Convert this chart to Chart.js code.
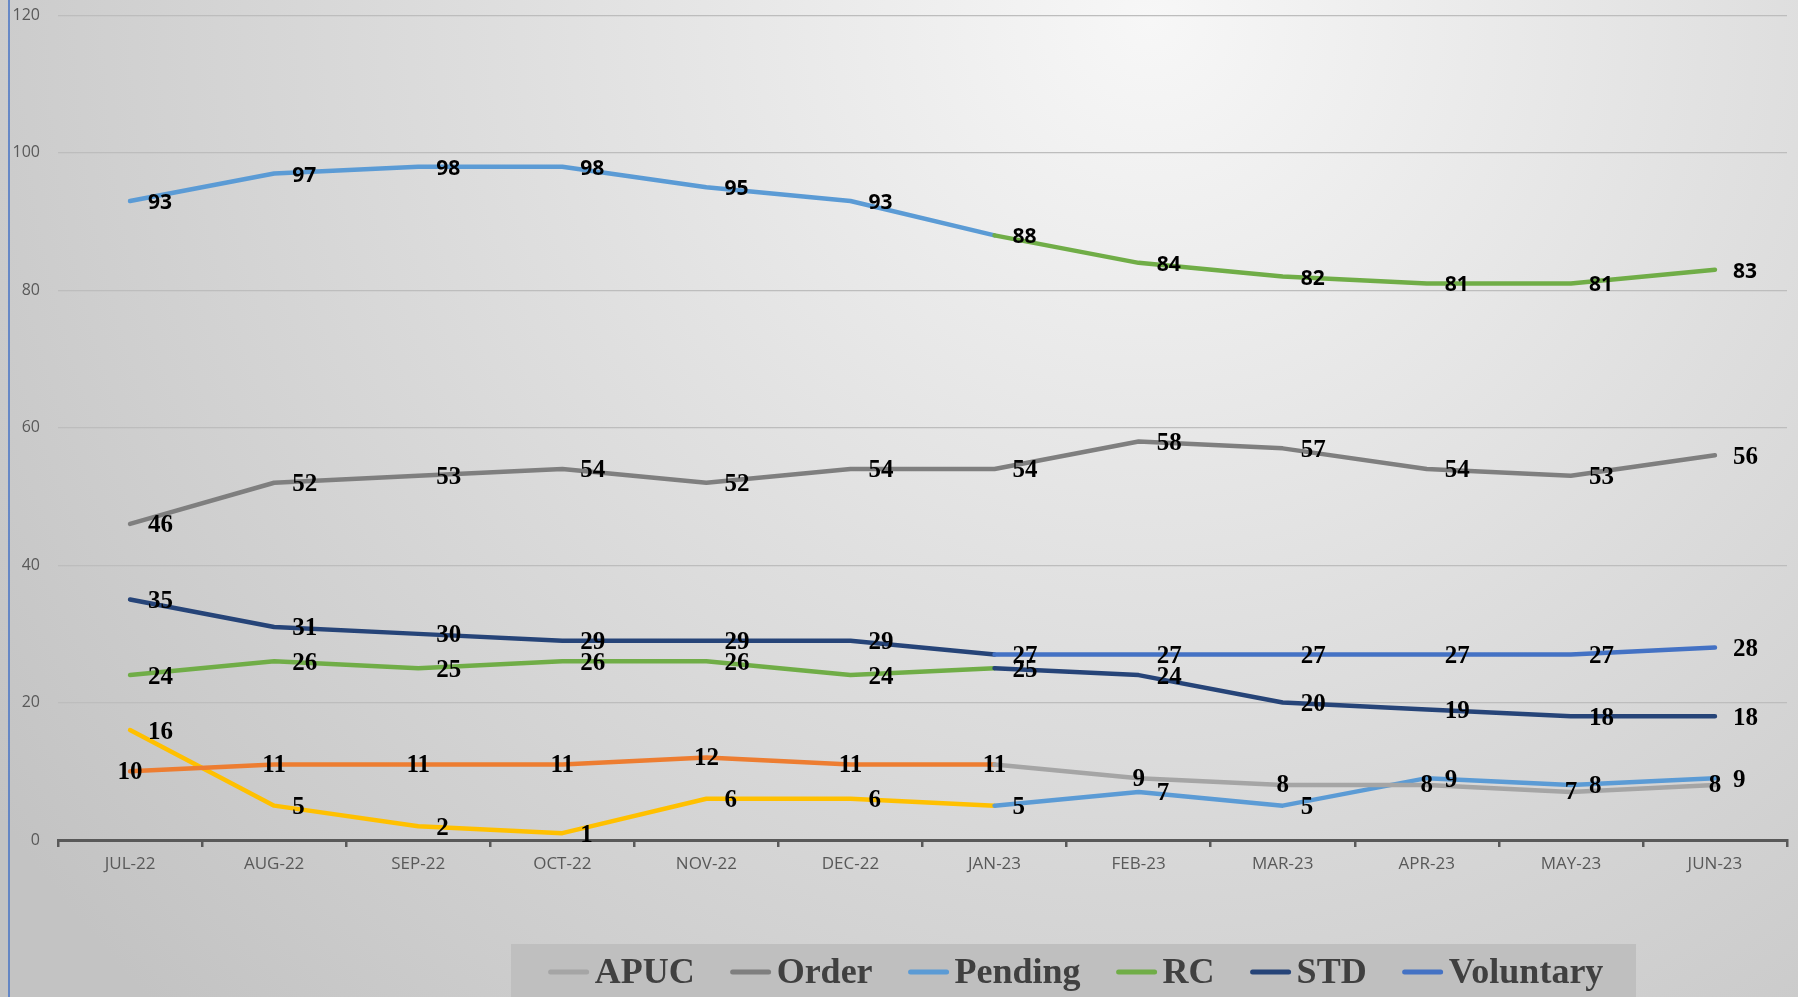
<!DOCTYPE html>
<html>
<head>
<meta charset="utf-8">
<script src="https://cdn.jsdelivr.net/npm/chart.js@4"></script>
<style>
  html, body { margin: 0; padding: 0; background: #d9d9d9; }
  #wrap { width: 1798px; height: 997px; }
</style>
</head>
<body>
<div id="wrap"><canvas id="trendChart" width="1798" height="997"></canvas></div>
<script>
// values
const months = ['JUL-22', 'AUG-22', 'SEP-22', 'OCT-22', 'NOV-22', 'DEC-22',
  'JAN-23', 'FEB-23', 'MAR-23', 'APR-23', 'MAY-23', 'JUN-23'];
const apuc = [10, 11, 11, 11, 12, 11, 11, 9, 8, 8, 7, 8];
const order = [46, 52, 53, 54, 52, 54, 54, 58, 57, 54, 53, 56];
const pending = [16, 5, 2, 1, 6, 6, 5, 7, 5, 9, 8, 9];
const rc = [93, 97, 98, 98, 95, 93, 88, 84, 82, 81, 81, 83];
const std = [24, 26, 25, 26, 26, 24, 25, 24, 20, 19, 18, 18];
const voluntary = [35, 31, 30, 29, 29, 29, 27, 27, 27, 27, 27, 28];
const yTicks = [0, 20, 40, 60, 80, 100, 120];

// line colour changes at JAN-23 (index 6)
const switchIndex = 6;
const serifLabel = 'bold 25px "Liberation Serif", "Times New Roman", serif';
const sansLabel = 'bold 21px "Open Sans", sans-serif';

function makeSeries(name, data, color, earlyColor, labelPos, labelFont) {
  return {
    label: name,
    data: data,
    borderColor: color,
    backgroundColor: color,
    borderWidth: 4.5,
    borderCapStyle: 'round',
    borderJoinStyle: 'round',
    pointRadius: 0,
    pointHoverRadius: 0,
    tension: 0,
    segment: {
      borderColor: (ctx) => (ctx.p0DataIndex < switchIndex ? earlyColor : color),
    },
    labelPos: labelPos,
    labelFont: labelFont,
  };
}

const datasets = [
  makeSeries('APUC', apuc, '#a5a5a5', '#ed7d31', 'center', serifLabel),
  makeSeries('Order', order, '#7f7f7f', '#7f7f7f', 'right', serifLabel),
  makeSeries('Pending', pending, '#5b9bd5', '#ffc000', 'right', serifLabel),
  makeSeries('RC', rc, '#70ad47', '#5b9bd5', 'right', sansLabel),
  makeSeries('STD', std, '#264478', '#70ad47', 'right', serifLabel),
  makeSeries('Voluntary', voluntary, '#4472c4', '#264478', 'right', serifLabel),
];

const backdrop = {
  id: 'backdrop',
  beforeDraw(chart) {
    const ctx = chart.ctx;
    const w = chart.width;
    const h = chart.height;
    ctx.save();
    const g = ctx.createRadialGradient(1150, 20, 0, 1150, 20, 1400);
    g.addColorStop(0, '#f7f7f7');
    g.addColorStop(0.45, '#dfdfdf');
    g.addColorStop(1, '#c3c3c3');
    ctx.fillStyle = g;
    ctx.fillRect(0, 0, w, h);
    ctx.strokeStyle = '#4472c4';
    ctx.lineWidth = 1.5;
    ctx.beginPath();
    ctx.moveTo(9, 0);
    ctx.lineTo(9, h);
    ctx.stroke();
    ctx.restore();
  },
};

const valueLabels = {
  id: 'valueLabels',
  afterDatasetsDraw(chart) {
    const ctx = chart.ctx;
    ctx.save();
    ctx.fillStyle = '#000000';
    ctx.textBaseline = 'middle';
    chart.data.datasets.forEach((ds, i) => {
      const meta = chart.getDatasetMeta(i);
      ctx.font = ds.labelFont;
      meta.data.forEach((pt, j) => {
        const text = String(ds.data[j]);
        if (ds.labelPos === 'center') {
          ctx.textAlign = 'center';
          ctx.fillText(text, pt.x, pt.y + 1);
        } else {
          ctx.textAlign = 'left';
          ctx.fillText(text, pt.x + 18, pt.y + 2);
        }
      });
    });
    ctx.restore();
  },
};

const boxLegend = {
  id: 'boxLegend',
  afterDraw(chart) {
    const ctx = chart.ctx;
    ctx.save();
    ctx.fillStyle = '#bfbfbf';
    ctx.fillRect(511, 944, 1125, 60);
    ctx.font = 'bold 36px "Liberation Serif", "Times New Roman", serif';
    ctx.textBaseline = 'middle';
    ctx.textAlign = 'left';
    const lineLen = 40;
    const gapText = 6;
    const gapItem = 36;
    const widths = chart.data.datasets.map((ds) => lineLen + gapText + ctx.measureText(ds.label).width);
    const total = widths.reduce((a, b) => a + b, 0) + gapItem * (widths.length - 1);
    let x = 1076 - total / 2;
    const y = 972;
    chart.data.datasets.forEach((ds, i) => {
      ctx.strokeStyle = ds.borderColor;
      ctx.lineWidth = 5;
      ctx.lineCap = 'round';
      ctx.beginPath();
      ctx.moveTo(x + 2, y);
      ctx.lineTo(x + lineLen - 2, y);
      ctx.stroke();
      ctx.fillStyle = '#404040';
      ctx.fillText(ds.label, x + lineLen + gapText, y + 2);
      x += widths[i] + gapItem;
    });
    ctx.restore();
  },
};

new Chart(document.getElementById('trendChart'), {
  type: 'line',
  data: { labels: months, datasets: datasets },
  plugins: [backdrop, valueLabels, boxLegend],
  options: {
    responsive: false,
    animation: false,
    devicePixelRatio: 1,
    layout: { padding: { left: 0, right: 11, top: 15.5, bottom: 0 } },
    plugins: {
      legend: { display: false },
      tooltip: { enabled: false },
    },
    scales: {
      x: {
        offset: true,
        afterFit: (scale) => { scale.height = 157; },
        grid: {
          offset: true,
          drawOnChartArea: false,
          drawTicks: true,
          tickLength: 7,
          color: '#595959',
          lineWidth: 2.5,
        },
        border: { display: true, color: '#595959', width: 3 },
        ticks: {
          color: '#595959',
          padding: 7,
          maxRotation: 0,
          font: { family: '"Open Sans", sans-serif', size: 17 },
        },
      },
      y: {
        min: 0,
        max: 120,
        afterFit: (scale) => {
          scale.width = 58;
          scale.paddingTop = 0;
          scale.paddingBottom = 0;
        },
        afterBuildTicks: (scale) => { scale.ticks = yTicks.map((v) => ({ value: v })); },
        grid: { color: '#bdbdbd', lineWidth: 1.2, drawTicks: false },
        border: { display: false },
        ticks: {
          color: '#595959',
          padding: 18,
          font: { family: '"Open Sans", sans-serif', size: 16 },
        },
      },
    },
  },
});
</script>
</body>
</html>
